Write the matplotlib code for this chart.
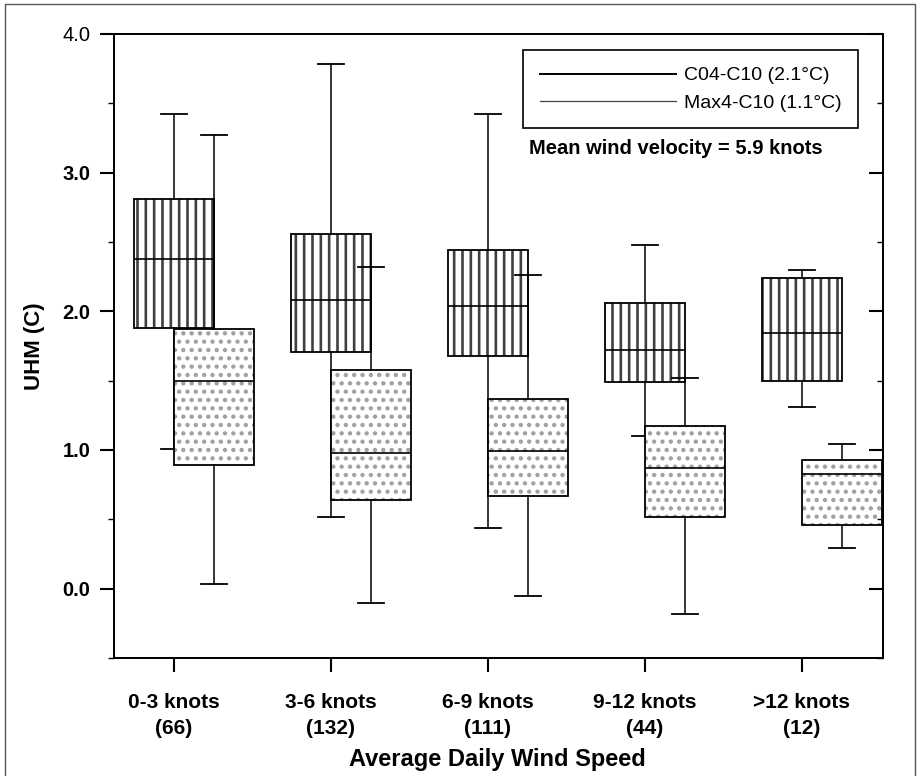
import numpy as np
import matplotlib
matplotlib.use('agg')
import matplotlib.pyplot as plt
from matplotlib.patches import PathPatch
from matplotlib.lines import Line2D
from matplotlib.ticker import MultipleLocator

## Box statistics per wind class (UHM, deg C)
groups = ['0-3 knots\n(66)', '3-6 knots\n(132)', '6-9 knots\n(111)', '9-12 knots\n(44)', '>12 knots\n(12)']

# C04-C10
c04_lo  = [1.01, 0.52, 0.44, 1.10, 1.31]
c04_q1  = [1.88, 1.71, 1.68, 1.49, 1.50]
c04_med = [2.38, 2.08, 2.04, 1.72, 1.84]
c04_q3  = [2.81, 2.56, 2.44, 2.06, 2.24]
c04_hi  = [3.42, 3.78, 3.42, 2.48, 2.30]

# Max4-C10
max_lo  = [0.03, -0.10, -0.05, -0.18, 0.29]
max_q1  = [0.89, 0.64, 0.67, 0.52, 0.46]
max_med = [1.50, 0.98, 0.99, 0.87, 0.83]
max_q3  = [1.87, 1.58, 1.37, 1.17, 0.93]
max_hi  = [3.27, 2.32, 2.26, 1.52, 1.04]

legend_labels = ['C04-C10 (2.1\u00b0C)', 'Max4-C10 (1.1\u00b0C)']
mean_note = 'Mean wind velocity = 5.9 knots'

def make_stats(lo, q1, med, q3, hi):
	return [dict(whislo=a, q1=b, med=c, q3=d, whishi=e, fliers=[])
			for a, b, c, d, e in zip(lo, q1, med, q3, hi)]

plt.rcParams['font.family'] = ['Liberation Sans', 'DejaVu Sans']
plt.rcParams['hatch.linewidth'] = 1.9

fig = plt.figure(figsize=(9.2, 7.76), dpi=100)
ax = fig.add_axes([0.1239, 0.1521, 0.8359, 0.8041])

x = np.arange(1, len(groups)+1)
off = 0.255
w = 0.51

def draw(stats, pos, hatch, hcol, z):
	res = ax.bxp(stats, positions=pos, widths=w, patch_artist=True, showfliers=False,
				 capwidths=0.17, manage_ticks=False,
				 boxprops=dict(facecolor='white', edgecolor=hcol, hatch=hatch, linewidth=0),
				 medianprops=dict(color='k', linewidth=1.2),
				 whiskerprops=dict(color='k', linewidth=1.1),
				 capprops=dict(color='k', linewidth=1.3))
	for art in res['boxes'] + res['whiskers'] + res['caps']:
		art.set_zorder(z)
	for m in res['medians']:
		m.set_zorder(z+0.2)
	# black outline on top of the hatched fill
	for b in res['boxes']:
		ax.add_patch(PathPatch(b.get_path(), fill=False, edgecolor='k', linewidth=1.3, zorder=z+0.1))

draw(make_stats(c04_lo, c04_q1, c04_med, c04_q3, c04_hi), x, '||', '#404040', 2)
draw(make_stats(max_lo, max_q1, max_med, max_q3, max_hi), x+off, '..', '#a0a0a0', 3)

ax.set_xlim(0.618, 5.516)
ax.set_ylim(-0.5, 4.0)
ax.set_xticks(x)
ax.set_xticklabels(groups, fontsize=15, fontweight='bold', linespacing=1.5)
ax.set_yticks([0, 1, 2, 3, 4])
ax.set_yticklabels(['0.0', '1.0', '2.0', '3.0', '4.0'], fontsize=14.5, fontweight='bold')
# top label is set in a narrow regular face
top = ax.get_yticklabels()[-1]
top.set_fontweight('normal')
top.set_family(['Liberation Sans Narrow', 'Liberation Sans'])
ax.yaxis.set_minor_locator(MultipleLocator(0.5))
ax.tick_params(axis='x', direction='out', length=10, width=1.5, pad=15)
ax.tick_params(axis='y', which='major', direction='out', length=10, width=1.5, pad=7)
ax.tick_params(axis='y', which='minor', direction='out', length=4, width=1)

# inward ticks on the right side
ax2 = ax.twinx()
ax2.set_ylim(ax.get_ylim())
ax2.set_yticks([0, 1, 2, 3, 4])
ax2.yaxis.set_minor_locator(MultipleLocator(0.5))
ax2.tick_params(axis='y', which='major', direction='in', length=10, width=1.5, labelright=False)
ax2.tick_params(axis='y', which='minor', direction='in', length=4, width=1)

for a in (ax, ax2):
	for s in a.spines.values():
		s.set_linewidth(1.3)

ax.set_ylabel('UHM (C)', fontsize=16, fontweight='bold')
ax.yaxis.set_label_coords(-0.09, 0.5)
ax.set_xlabel('Average Daily Wind Speed', fontsize=17, fontweight='bold')
ax.xaxis.set_label_coords(0.498, -0.145)

handles = [Line2D([], [], color='k', linewidth=1.4), Line2D([], [], color='#444444', linewidth=0.9)]
leg = ax2.legend(handles, legend_labels, loc='upper right', bbox_to_anchor=(0.9675, 0.974),
				 fontsize=14, handlelength=7.0, handletextpad=0.4, borderaxespad=0,
				 fancybox=False, framealpha=1, edgecolor='k', borderpad=0.85, labelspacing=0.5)
leg.get_frame().set_linewidth(1.2)
ax2.text(0.54, 0.816, mean_note, transform=ax.transAxes, ha='left', va='center',
		 fontsize=14.5, fontweight='bold')

# page frame (left, top and right edges)
fx = [5/920, 5/920, 915/920, 915/920]
fy = [0.0, 1 - 4/776, 1 - 4/776, 0.0]
fig.add_artist(Line2D(fx, fy, transform=fig.transFigure, color='#555555', linewidth=1.0))

plt.savefig('out.png', dpi=100)
